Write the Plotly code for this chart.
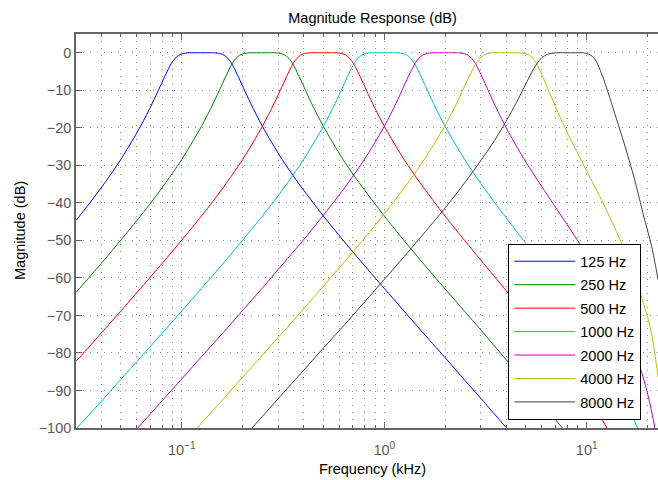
import math
import plotly.graph_objects as go

# Octave-band filter bank: magnitude response of each band (frequency in kHz, level in dB)
band_names = ["125 Hz", "250 Hz", "500 Hz", "1000 Hz", "2000 Hz", "4000 Hz", "8000 Hz"]
band_colors = ["#0000ff", "#008000", "#ff0000", "#00bfbf", "#bf00bf", "#bfbf00", "#404040"]

freq_125 = [0.03, 0.03125, 0.0357, 0.0417, 0.05, 0.0625, 0.0714, 0.0781, 0.0833, 0.0862,
            0.0893, 0.0926, 0.0962, 0.1, 0.1042, 0.1087, 0.115, 0.125, 0.135, 0.1438,
            0.15, 0.1563, 0.1625, 0.1688, 0.175, 0.1813, 0.1875, 0.2, 0.2188, 0.25,
            0.3125, 0.375, 0.5, 0.625, 0.75, 1.0, 1.25, 1.5, 2.0, 2.5, 3.0, 4.0, 4.02]
mag_125 = [-44.7, -43.5, -39.5, -34.6, -28.4, -19.6, -13.5, -9.0, -5.7, -4.1,
           -2.6, -1.5, -0.7, -0.3, -0.1, 0.0, 0.0, 0.0, 0.0, 0.0,
           -0.1, -0.3, -0.7, -1.5, -2.6, -4.1, -5.7, -9.0, -13.5, -19.6,
           -28.4, -34.6, -43.5, -49.9, -55.0, -62.8, -68.8, -73.7, -81.3, -87.3, -92.1, -99.9, -100.0]

freq_250 = [0.03, 0.03125, 0.0357, 0.0417, 0.05, 0.0625, 0.0714, 0.0833, 0.1, 0.125,
            0.1429, 0.1563, 0.1667, 0.1724, 0.1786, 0.1852, 0.1923, 0.2, 0.2083, 0.2174,
            0.23, 0.25, 0.27, 0.2875, 0.3, 0.3125, 0.325, 0.3375, 0.35, 0.3625,
            0.375, 0.4, 0.4375, 0.5, 0.625, 0.75, 1.0, 1.25, 1.5, 2.0,
            2.5, 3.0, 4.0, 5.0, 6.0, 7.0, 7.58]
mag_250 = [-63.9, -62.8, -59.2, -55.0, -49.9, -43.5, -39.5, -34.6, -28.4, -19.6,
           -13.5, -9.0, -5.7, -4.1, -2.6, -1.5, -0.7, -0.3, -0.1, 0.0,
           0.0, 0.0, 0.0, 0.0, -0.1, -0.3, -0.7, -1.5, -2.6, -4.1,
           -5.7, -9.0, -13.5, -19.6, -28.4, -34.6, -43.5, -50.0, -55.1, -63.0,
           -69.0, -73.9, -81.8, -88.0, -93.2, -97.7, -100.0]

freq_500 = [0.03, 0.03125, 0.0417, 0.05, 0.0625, 0.0833, 0.1, 0.125, 0.1429, 0.1667,
            0.2, 0.25, 0.2857, 0.3125, 0.3333, 0.3448, 0.3571, 0.3704, 0.3846, 0.4,
            0.4167, 0.4348, 0.46, 0.5, 0.54, 0.575, 0.6, 0.625, 0.65, 0.675,
            0.7, 0.725, 0.75, 0.8, 0.875, 1.0, 1.25, 1.5, 2.0, 2.5,
            3.0, 4.0, 5.0, 6.0, 8.0, 10.0, 12.0, 12.6]
mag_500 = [-82.2, -81.2, -73.6, -68.8, -62.8, -55.0, -49.9, -43.5, -39.5, -34.6,
           -28.4, -19.6, -13.5, -9.0, -5.7, -4.1, -2.6, -1.5, -0.7, -0.3,
           -0.1, 0.0, 0.0, 0.0, 0.0, 0.0, -0.1, -0.3, -0.7, -1.5,
           -2.6, -4.1, -5.7, -9.0, -13.5, -19.6, -28.4, -34.6, -43.6, -50.1,
           -55.3, -63.4, -69.7, -75.0, -83.7, -91.2, -98.1, -100.0]

freq_1000 = [0.0303, 0.04, 0.05, 0.0625, 0.0833, 0.1, 0.125, 0.1667, 0.2, 0.25,
             0.2857, 0.3333, 0.4, 0.5, 0.5714, 0.625, 0.6667, 0.6897, 0.7143, 0.7407,
             0.7692, 0.8, 0.8333, 0.8696, 0.92, 1.0, 1.08, 1.15, 1.2, 1.25,
             1.3, 1.35, 1.4, 1.45, 1.5, 1.6, 1.75, 2.0, 2.5, 3.0,
             4.0, 5.0, 6.0, 8.0, 10.0, 12.0, 14.0, 16.0, 17.0, 17.8]
mag_1000 = [-100.0, -92.9, -87.0, -81.2, -73.6, -68.8, -62.8, -55.0, -49.9, -43.5,
            -39.5, -34.6, -28.4, -19.6, -13.5, -9.0, -5.7, -4.1, -2.6, -1.5,
            -0.7, -0.3, -0.1, 0.0, 0.0, 0.0, 0.0, 0.0, -0.1, -0.3,
            -0.7, -1.5, -2.6, -4.1, -5.7, -9.0, -13.5, -19.7, -28.5, -34.9,
            -44.0, -50.8, -56.3, -65.3, -72.9, -79.8, -86.8, -93.8, -97.3, -100.0]

freq_2000 = [0.0606, 0.0625, 0.08, 0.1, 0.125, 0.1667, 0.2, 0.25, 0.3333, 0.4,
             0.5, 0.5714, 0.6667, 0.8, 1.0, 1.1429, 1.25, 1.3333, 1.3793, 1.4286,
             1.4815, 1.5385, 1.6, 1.6667, 1.7391, 1.85, 2.0, 2.15, 2.3, 2.4,
             2.5, 2.6, 2.7, 2.8, 2.9, 3.0, 3.2, 3.5, 4.0, 5.0,
             6.0, 8.0, 10.0, 12.0, 14.0, 16.0, 18.0, 19.0, 20.0, 21.0, 21.7]
mag_2000 = [-100.0, -99.2, -92.7, -86.9, -81.0, -73.5, -68.6, -62.7, -54.8, -49.8,
            -43.3, -39.3, -34.5, -28.3, -19.6, -13.5, -8.9, -5.6, -4.1, -2.6,
            -1.5, -0.7, -0.3, -0.1, 0.0, 0.0, 0.0, 0.0, 0.0, -0.1,
            -0.3, -0.7, -1.5, -2.6, -4.1, -5.7, -9.1, -13.7, -20.0, -29.1,
            -35.7, -45.8, -53.8, -61.0, -68.1, -75.5, -82.5, -86.5, -91.0, -96.0, -100.0]

freq_4000 = [0.1192, 0.125, 0.15, 0.2, 0.25, 0.3, 0.4, 0.5, 0.6, 0.8,
             1.0, 1.1429, 1.3333, 1.6, 2.0, 2.2857, 2.5, 2.6667, 2.75, 2.8284,
             2.95, 3.0, 3.2, 3.4, 3.6, 4.0, 4.4, 4.6, 4.8, 5.0,
             5.2, 5.4, 5.657, 6.0, 6.4, 7.0, 8.0, 10.0, 12.0, 14.0,
             16.0, 18.0, 19.0, 20.0, 21.0, 22.0, 22.5]
mag_4000 = [-100.0, -98.7, -94.0, -86.4, -80.6, -75.8, -68.2, -62.2, -57.3, -49.4,
            -42.9, -38.9, -34.1, -27.9, -19.3, -13.3, -8.8, -5.6, -4.2, -3.0,
            -1.6, -1.2, -0.3, 0.0, 0.0, 0.0, 0.0, 0.0, -0.1, -0.3,
            -0.7, -1.4, -3.0, -5.8, -9.4, -14.3, -21.2, -31.5, -39.9, -47.6,
            -55.0, -62.5, -66.5, -70.5, -75.5, -82.5, -86.5]

freq_8000 = [0.222, 0.25, 0.3, 0.4, 0.5, 0.6, 0.8, 1.0, 1.25, 1.5,
             2.0, 2.5, 3.0, 3.5, 4.0, 4.5, 5.0, 5.33, 5.657, 6.0,
             6.4, 6.8, 7.2, 8.0, 9.0, 9.6, 10.0, 10.5, 11.0, 11.31,
             12.0, 13.0, 14.0, 15.0, 16.0, 17.0, 18.0, 19.0, 20.0, 21.0, 22.0, 22.5]
mag_8000 = [-100.0, -96.9, -92.1, -84.6, -78.7, -74.0, -66.4, -60.4, -54.4, -49.4,
            -41.3, -34.6, -28.7, -23.4, -18.2, -13.2, -8.3, -5.4, -3.0, -1.3,
            -0.4, -0.1, 0.0, 0.0, 0.0, 0.0, -0.2, -0.7, -1.8, -3.0,
            -6.4, -12.0, -17.5, -22.6, -27.6, -32.6, -37.8, -43.0, -47.5, -52.0, -57.5, -60.5]

band_freqs = [freq_125, freq_250, freq_500, freq_1000, freq_2000, freq_4000, freq_8000]
band_mags = [mag_125, mag_250, mag_500, mag_1000, mag_2000, mag_4000, mag_8000]

# Axis ticks
x_tick_vals = [0.1, 1, 10]
x_tick_text = ["10<sup>\u22121</sup>", "10<sup>0</sup>", "10<sup>1</sup>"]
x_minor_vals = [0.03, 0.04, 0.05, 0.06, 0.07, 0.08, 0.09,
                0.2, 0.3, 0.4, 0.5, 0.6, 0.7, 0.8, 0.9,
                2, 3, 4, 5, 6, 7, 8, 9, 20]
y_tick_vals = [-100, -90, -80, -70, -60, -50, -40, -30, -20, -10, 0]
freq_limits = [0.03, 22.49]
mag_limits = [-100, 5]

FONT = "Liberation Sans, Arial, Helvetica, sans-serif"
AXIS_COLOR = "#666666"
GRID_COLOR = "#8c8c8c"
GRID_DASH = "1px,6px"

fig = go.Figure()
for name, color, f, m in zip(band_names, band_colors, band_freqs, band_mags):
    fig.add_trace(go.Scatter(
        x=f, y=m, mode="lines", name=name, legendgroup=name,
        line=dict(color=color, width=1, shape="spline", smoothing=0.8),
    ))

fig.update_layout(
    width=658, height=480,
    margin=dict(l=76, r=0, t=34, b=52),
    paper_bgcolor="white", plot_bgcolor="white",
    font=dict(family=FONT, size=14.5, color="#000000"),
    title=dict(text="Magnitude Response (dB)", x=372.5 / 658, xanchor="center",
               y=1 - 18 / 480, yanchor="middle",
               font=dict(family=FONT, size=14.5, color="#000000")),
    showlegend=True,
    legend=dict(
        x=(641 - 76) / 582, xanchor="right",
        y=(428 - 420) / 394, yanchor="bottom",
        bgcolor="white", bordercolor="#000000", borderwidth=1.3,
        font=dict(family=FONT, size=14.5, color="#000000"),
        itemwidth=61, tracegroupgap=1.6, traceorder="grouped",
    ),
)

fig.update_xaxes(
    type="log",
    range=[math.log10(freq_limits[0]), math.log10(freq_limits[1])],
    tickmode="array", tickvals=x_tick_vals, ticktext=x_tick_text,
    ticks="inside", ticklen=6, tickwidth=1, tickcolor=AXIS_COLOR,
    tickfont=dict(family=FONT, size=14.5, color="#5a5a5a"),
    ticklabelstandoff=8,
    showline=True, linecolor=AXIS_COLOR, linewidth=1.6, mirror="ticks",
    showgrid=True, gridcolor=GRID_COLOR, gridwidth=1, griddash=GRID_DASH,
    minor=dict(tickmode="array", tickvals=x_minor_vals, ticks="inside", ticklen=3.5,
               tickwidth=1, tickcolor=AXIS_COLOR, showgrid=True,
               gridcolor=GRID_COLOR, gridwidth=1, griddash=GRID_DASH),
    zeroline=False,
)
fig.update_yaxes(
    range=mag_limits,
    tickmode="array", tickvals=y_tick_vals,
    ticks="inside", ticklen=6, tickwidth=1, tickcolor=AXIS_COLOR,
    tickfont=dict(family=FONT, size=14.5, color="#5a5a5a"),
    showline=True, linecolor=AXIS_COLOR, linewidth=1.6, mirror=False,
    showgrid=True, gridcolor=GRID_COLOR, gridwidth=1, griddash=GRID_DASH,
    zeroline=False,
)

fig.add_annotation(text="Frequency (kHz)", xref="paper", yref="paper",
                   x=(372.5 - 76) / 582, y=(428 - 469) / 394,
                   xanchor="center", yanchor="middle", showarrow=False,
                   font=dict(family=FONT, size=14.5, color="#000000"))
fig.add_annotation(text="Magnitude (dB)", xref="paper", yref="paper",
                   x=(20 - 76) / 582, y=0.5, textangle=-90,
                   xanchor="center", yanchor="middle", showarrow=False,
                   font=dict(family=FONT, size=14.5, color="#000000"))

fig.write_html("out.html")
